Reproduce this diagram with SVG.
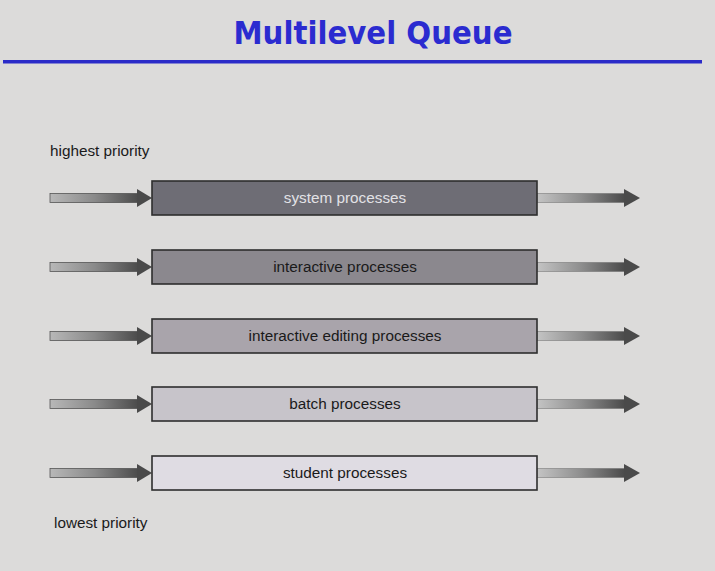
<svg xmlns="http://www.w3.org/2000/svg" width="715" height="571" viewBox="0 0 715 571">
<defs>
<linearGradient id="shaft" x1="0" y1="0" x2="1" y2="0">
<stop offset="0" stop-color="#b8b8b8"/>
<stop offset="0.5" stop-color="#8a8a8a"/>
<stop offset="1" stop-color="#4a4a4a"/>
</linearGradient>
<linearGradient id="shaftR" x1="0" y1="0" x2="1" y2="0">
<stop offset="0" stop-color="#c4c4c4"/>
<stop offset="0.5" stop-color="#8e8e8e"/>
<stop offset="1" stop-color="#4a4a4a"/>
</linearGradient>
<g id="arrowL">
<rect x="50" y="-4.5" width="89" height="9" fill="url(#shaft)" stroke="#555" stroke-width="0.8"/>
<polygon points="137,-9 152,0 137,9" fill="#4a4a4a"/>
</g>
<g id="arrowR">
<rect x="537" y="-4.5" width="88" height="9" fill="url(#shaftR)" stroke="#6a6a6a" stroke-width="0.5"/>
<polygon points="624,-9 640,0 624,9" fill="#4a4a4a"/>
</g>
</defs>
<style>
.box{stroke:#2e2e2e;stroke-width:1.6}
.lbl{font-family:"Liberation Sans",Arial,sans-serif;font-size:15.3px;text-anchor:middle;fill:#1a1a1a}
.side{font-family:"Liberation Sans",Arial,sans-serif;font-size:15.3px;fill:#1a1a1a}
</style>
<rect width="715" height="571" fill="#dcdbda"/>
<g id="title">
<text x="373" y="44" font-family="'DejaVu Sans',Verdana,sans-serif" font-weight="bold" font-size="32" fill="#2b2bd0" text-anchor="middle" textLength="279" lengthAdjust="spacingAndGlyphs">Multilevel Queue</text>
<rect x="3" y="60" width="699" height="3.5" fill="#2b2bc8"/>
</g>
<text class="side" x="50" y="156">highest priority</text>
<text class="side" x="54" y="528">lowest priority</text>
<g id="connectors">
<use href="#arrowL" y="198"/><use href="#arrowR" y="198"/>
<use href="#arrowL" y="267"/><use href="#arrowR" y="267"/>
<use href="#arrowL" y="336"/><use href="#arrowR" y="336"/>
<use href="#arrowL" y="404"/><use href="#arrowR" y="404"/>
<use href="#arrowL" y="473"/><use href="#arrowR" y="473"/>
</g>
<g id="system">
<rect class="box" x="152" y="181" width="385" height="34" fill="#6e6d75"/>
<text class="lbl" x="345" y="203" style="fill:#e2e2e6">system processes</text>
</g>
<g id="interactive">
<rect class="box" x="152" y="250" width="385" height="34" fill="#8b888e"/>
<text class="lbl" x="345" y="272">interactive processes</text>
</g>
<g id="editing">
<rect class="box" x="152" y="319" width="385" height="34" fill="#a9a4ab"/>
<text class="lbl" x="345" y="341">interactive editing processes</text>
</g>
<g id="batch">
<rect class="box" x="152" y="387" width="385" height="34" fill="#c7c4ca"/>
<text class="lbl" x="345" y="409">batch processes</text>
</g>
<g id="student">
<rect class="box" x="152" y="456" width="385" height="34" fill="#dfdce3"/>
<text class="lbl" x="345" y="478">student processes</text>
</g>
</svg>
